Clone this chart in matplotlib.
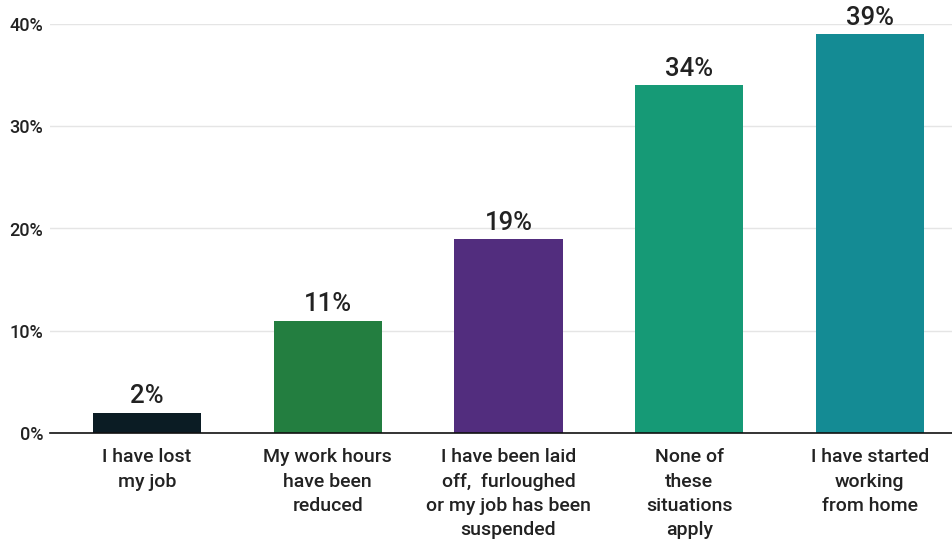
import matplotlib.pyplot as plt
import numpy as np

# survey responses (% of respondents)
categories = [
    'I have lost\nmy job',
    'My work hours\nhave been\nreduced',
    'I have been laid\noff,  furloughed\nor my job has been\nsuspended',
    'None of\nthese\nsituations\napply',
    'I have started\nworking\nfrom home',
]
values = [2, 11, 19, 34, 39]
colors = ['#0b1c24', '#237e40', '#522d7e', '#169a76', '#148b94']
yticks = [0, 10, 20, 30, 40]

plt.rcParams['font.family'] = ['Roboto', 'DejaVu Sans']
text_color = '#222222'

fig = plt.figure(figsize=(9.53, 5.41), dpi=100)
ax = fig.add_axes([50 / 953, 1 - 433 / 541, 1 - 50 / 953, (433 - 24) / 541])

x = np.arange(len(categories))
bars = ax.bar(x, values, width=0.6, color=colors, zorder=3)

for rect, v in zip(bars, values):
    ax.annotate(f'{v}%', (rect.get_x() + rect.get_width() / 2, v),
                xytext=(0, 3), textcoords='offset points',
                ha='center', va='bottom', fontsize=18.5, color=text_color,
                fontweight='medium', annotation_clip=False)

ax.set_xlim(-0.537, 4.46)
ax.set_ylim(0, 40)
ax.set_yticks(yticks)
ax.set_yticklabels([f'{t}%' for t in yticks], fontsize=13, color=text_color,
                   fontweight='medium')
ax.set_xticks(x)
ax.set_xticklabels(categories, fontsize=14, color=text_color, va='top',
                   linespacing=1.45, fontweight='medium')
ax.tick_params(axis='both', length=0)
ax.tick_params(axis='y', pad=5)
ax.tick_params(axis='x', pad=11)

ax.grid(axis='y', color='#e5e5e5', linewidth=1, zorder=0)
for side in ['top', 'right', 'left']:
    ax.spines[side].set_visible(False)
ax.spines['bottom'].set_color('#111111')
ax.spines['bottom'].set_linewidth(1.2)
ax.spines['bottom'].set_zorder(4)

fig.savefig('out.png', dpi=100)
